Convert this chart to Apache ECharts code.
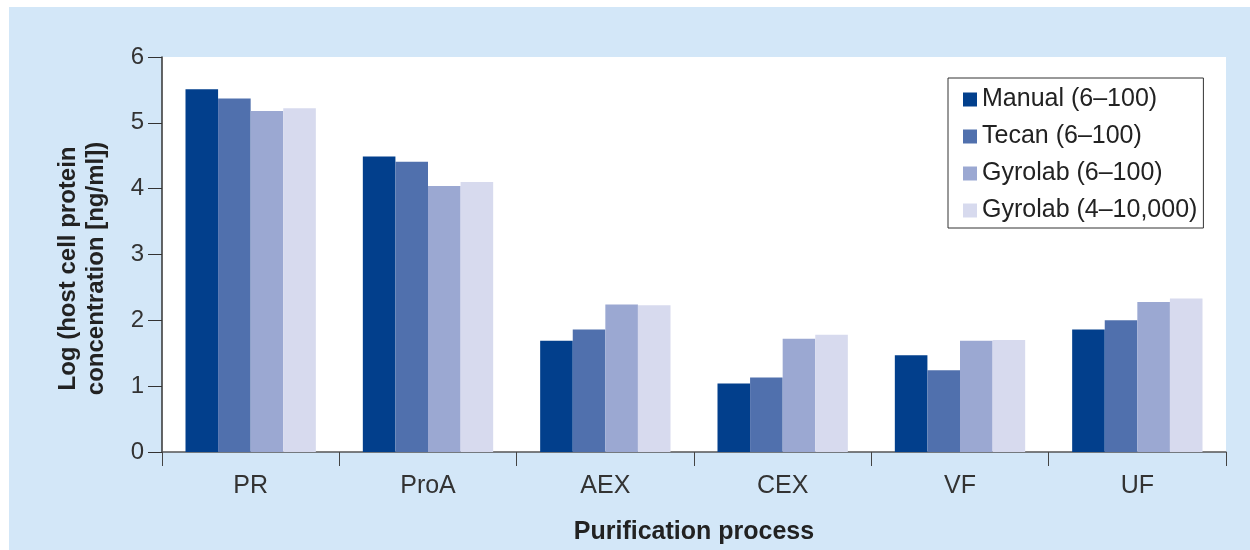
<!DOCTYPE html>
<html>
<head>
<meta charset="utf-8">
<script src="https://cdn.jsdelivr.net/npm/echarts@6/dist/echarts.min.js"></script>
<style>
  html, body { margin: 0; padding: 0; background: #fff; }
  #bg { position: absolute; left: 9px; top: 7px; width: 1241px; height: 543px; background: #d3e7f8; }
  #chart { position: absolute; left: 0; top: 0; width: 1250px; height: 550px; }
</style>
</head>
<body>
<div id="bg"></div>
<div id="chart"></div>
<script>
// categories along the x axis
var processes = ['PR', 'ProA', 'AEX', 'CEX', 'VF', 'UF']
// log (host cell protein concentration) per method
var manual = [5.51, 4.49, 1.69, 1.04, 1.47, 1.86]
var tecan = [5.37, 4.41, 1.86, 1.13, 1.24, 2.00]
var gyrolab = [5.18, 4.04, 2.24, 1.72, 1.69, 2.28]
var gyrolabWide = [5.22, 4.10, 2.23, 1.78, 1.70, 2.33]
var seriesNames = ['Manual (6\u2013100)', 'Tecan (6\u2013100)', 'Gyrolab (6\u2013100)', 'Gyrolab (4\u201310,000)']
var colors = ['#023f8c', '#5070ad', '#9ba8d2', '#d7daee']
var yTicks = [0, 1, 2, 3, 4, 5, 6]

var font = '"Liberation Sans", Arial, sans-serif'
var chart = echarts.init(document.getElementById('chart'))

var values = [manual, tecan, gyrolab, gyrolabWide]
var series = values.map(function (d, i) {
  return {
    name: seriesNames[i],
    type: 'bar',
    data: d,
    barGap: '0%',
    barCategoryGap: '26.5%',
    itemStyle: { color: colors[i] }
  }
})

chart.setOption({
  backgroundColor: 'transparent',
  animation: false,
  textStyle: { fontFamily: font },
  color: colors,
  grid: {
    left: 162,
    right: 24,
    top: 57,
    bottom: 97,
    show: true,
    backgroundColor: '#fff',
    borderWidth: 0
  },
  legend: {
    orient: 'vertical',
    left: 948,
    top: 78,
    padding: [8, 6, 4, 15],
    itemWidth: 14,
    itemHeight: 14,
    itemGap: 10,
    icon: 'rect',
    backgroundColor: '#fff',
    borderColor: '#333',
    borderWidth: 1,
    textStyle: { fontSize: 25, lineHeight: 27, color: '#222', fontFamily: font },
    data: seriesNames
  },
  xAxis: {
    type: 'category',
    data: processes,
    name: 'Purification process',
    nameLocation: 'middle',
    nameGap: 68,
    nameTextStyle: { fontSize: 25, fontWeight: 'bold', color: '#222' },
    axisLine: { lineStyle: { color: '#555', width: 1.5 } },
    axisTick: { show: true, length: 14, lineStyle: { color: '#444' } },
    axisLabel: { fontSize: 25, color: '#333', margin: 22 }
  },
  yAxis: {
    type: 'value',
    min: yTicks[0],
    max: yTicks[yTicks.length - 1],
    interval: 1,
    name: 'Log (host cell protein\nconcentration [ng/ml])',
    nameLocation: 'middle',
    nameRotate: 90,
    nameGap: 52,
    nameTextStyle: { fontSize: 24, fontWeight: 'bold', color: '#222', lineHeight: 28, padding: [0, 28, 0, 0] },
    axisLine: { show: true, lineStyle: { color: '#333', width: 1.5 } },
    axisTick: { show: true, length: 14, lineStyle: { color: '#333' } },
    axisLabel: { fontSize: 24, color: '#333', margin: 18 },
    splitLine: { show: false }
  },
  series: series
})
</script>
</body>
</html>
